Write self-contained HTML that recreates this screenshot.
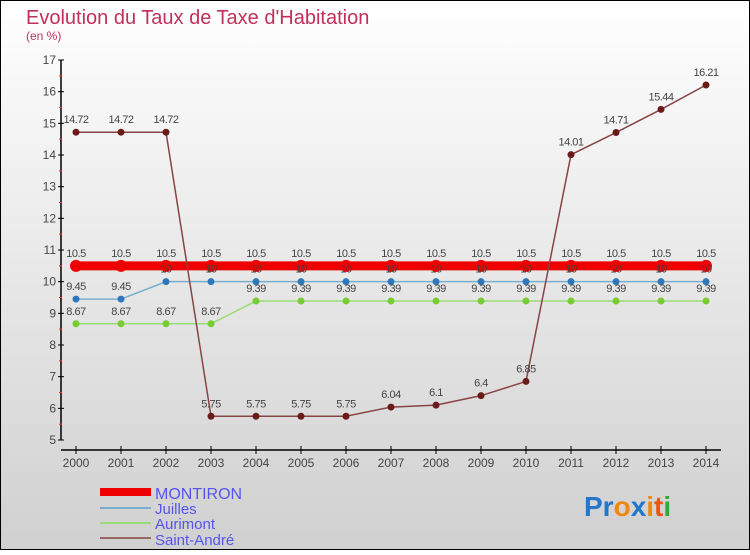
<!DOCTYPE html>
<html><head><meta charset="utf-8"><style>
body{margin:0;}
svg text{font-family:"Liberation Sans",sans-serif;}
</style></head><body>
<svg width="750" height="550" xmlns="http://www.w3.org/2000/svg">
<defs><linearGradient id="bg" x1="0" y1="0" x2="0" y2="1"><stop offset="0" stop-color="#ffffff"/><stop offset="1" stop-color="#d0d0d0"/></linearGradient></defs>
<rect x="0.5" y="0.5" width="749" height="549" fill="url(#bg)" stroke="#000"/>
<text x="26" y="24" font-size="20" fill="#c0305a">Evolution du Taux de Taxe d'Habitation</text>
<text x="26" y="40" font-size="12" fill="#c0305a">(en %)</text>
<g id="axes"></g>
<g id="series"></g>
<g id="labels"></g>
<g>
<rect x="100" y="488" width="51" height="8" fill="#ee0000"/>
<text x="155" y="499" font-size="16" fill="#5555ee">MONTIRON</text>
<rect x="100" y="507" width="51" height="2" fill="#7aaed0"/>
<text x="155" y="514" font-size="15" fill="#5555ee">Juilles</text>
<rect x="100" y="522" width="51" height="2" fill="#99dd77"/>
<text x="155" y="529" font-size="15" fill="#5555ee">Aurimont</text>
<rect x="100" y="537" width="51" height="2" fill="#996666"/>
<text x="155" y="545" font-size="15" fill="#5555ee">Saint-André</text>
</g>
<g font-size="28" font-weight="bold">
<text x="584" y="516"><tspan fill="#2277cc">Pr</tspan><tspan fill="#ee8811">o</tspan><tspan fill="#2277cc">x</tspan><tspan fill="#ee8811">i</tspan><tspan fill="#ee5511">t</tspan><tspan fill="#33aa33">i</tspan></text>
</g>
</svg>
<script>
const years=[2000,2001,2002,2003,2004,2005,2006,2007,2008,2009,2010,2011,2012,2013,2014];
const montiron=[10.5,10.5,10.5,10.5,10.5,10.5,10.5,10.5,10.5,10.5,10.5,10.5,10.5,10.5,10.5];
const juilles=[9.45,9.45,10,10,10,10,10,10,10,10,10,10,10,10,10];
const aurimont=[8.67,8.67,8.67,8.67,9.39,9.39,9.39,9.39,9.39,9.39,9.39,9.39,9.39,9.39,9.39];
const saintAndre=[14.72,14.72,14.72,5.75,5.75,5.75,5.75,6.04,6.1,6.4,6.85,14.01,14.71,15.44,16.21];
const yTicks=[5,6,7,8,9,10,11,12,13,14,15,16,17];
const NS="http://www.w3.org/2000/svg";
const xS=i=>76+i*45;
const yS=v=>440-(v-5)*(380/12);
function mk(p,tag,at){const e=document.createElementNS(NS,tag);for(const k in at)e.setAttribute(k,at[k]);p.appendChild(e);return e;}
const ax=document.getElementById('axes');
mk(ax,'line',{x1:61,y1:60,x2:61,y2:440,stroke:'#000','stroke-width':1.5});
mk(ax,'line',{x1:61,y1:450,x2:721,y2:450,stroke:'#000','stroke-width':1.5});
yTicks.forEach(t=>{
 const y=yS(t);
 mk(ax,'line',{x1:58,y1:y,x2:64,y2:y,stroke:'#000'});
 const tx=mk(ax,'text',{x:56,y:y+4,'font-size':12,fill:'#444','text-anchor':'end'});tx.textContent=t;
 
 
 if(t<17){const ym=yS(t+0.5);mk(ax,'line',{x1:59,y1:ym,x2:62,y2:ym,stroke:'#e33'});}
});
years.forEach((yr,i)=>{
 const x=xS(i);
 mk(ax,'line',{x1:x,y1:446,x2:x,y2:454,stroke:'#000'});
 const tx=mk(ax,'text',{x:x,y:467,'font-size':12,fill:'#444','text-anchor':'middle'});tx.textContent=yr;
 
 
});
const sg=document.getElementById('series'),lg=document.getElementById('labels');
function series(name,data,color,lw,r,dot,lbl){
 const g=mk(sg,'g',{});
 
 
 mk(g,'polyline',{points:data.map((v,i)=>xS(i)+','+yS(v)).join(' '),fill:'none',stroke:color,'stroke-width':lw});
 data.forEach((v,i)=>{
  const c=mk(g,'circle',{cx:xS(i),cy:yS(v),r:r,fill:dot});
  
  
  const t=mk(lg,'text',{x:xS(i),y:yS(v)+lbl,'font-size':11,fill:'#444','text-anchor':'middle','letter-spacing':'-0.5'});
  t.textContent=String(v);
  
  
 });
}
series('montiron',montiron,'#ee0000',9,6,'#ee0000',-9);
series('aurimont',aurimont,'#99dd77',1.5,3.5,'#77cc33',-9);
series('juilles',juilles,'#7aaed0',1.5,3.5,'#2f77bb',-9);
series('saint-andre',saintAndre,'#884444',1.5,3.5,'#6b1a1a',-9);
</script>
</body></html>
